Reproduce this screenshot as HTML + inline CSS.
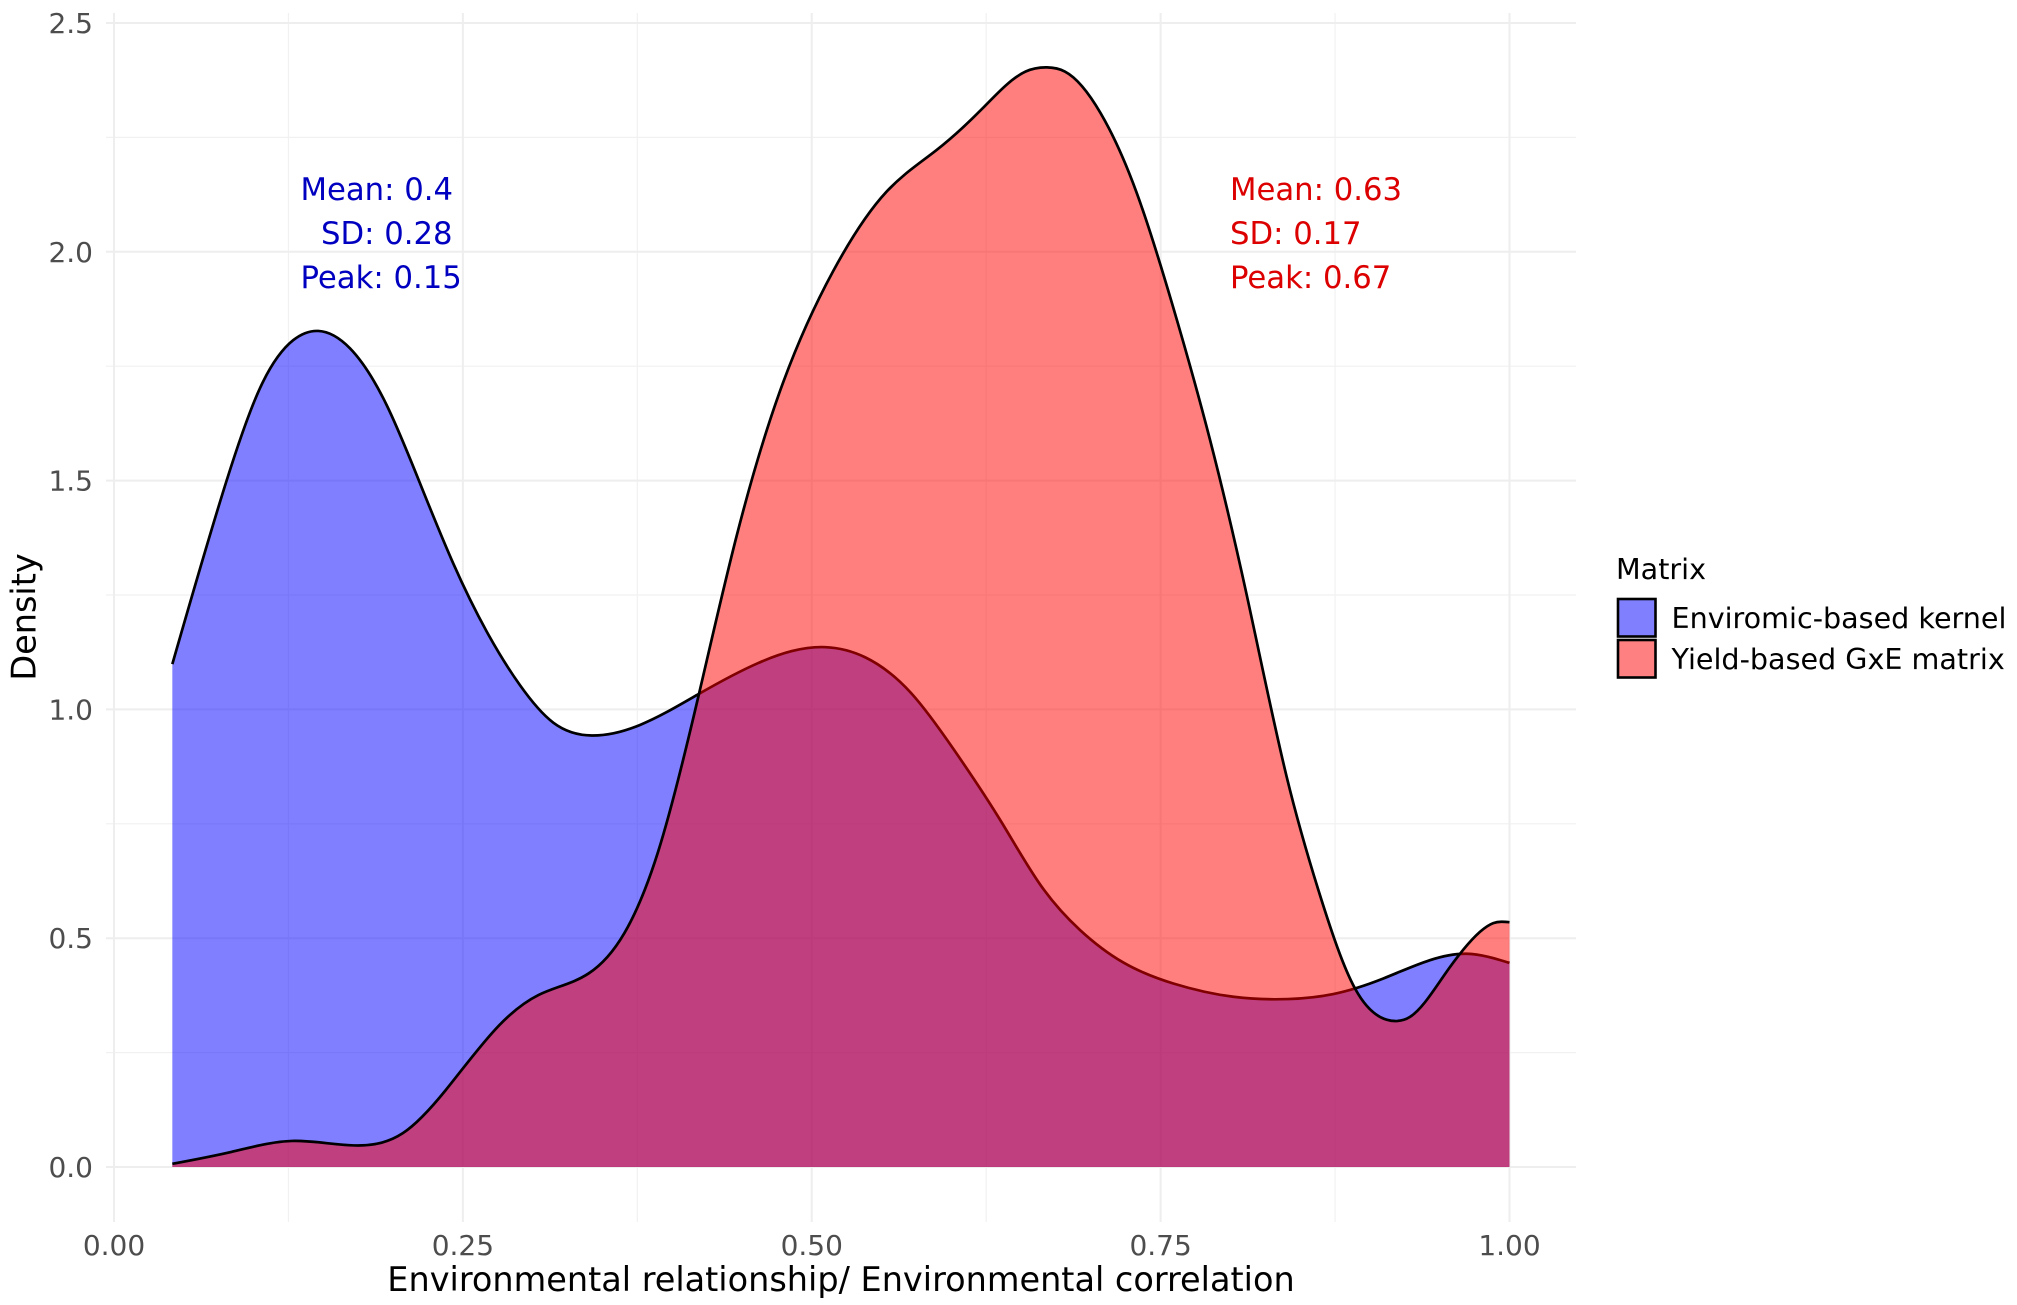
<!DOCTYPE html>
<html lang="en">
<head>
<meta charset="utf-8">
<title>Environmental relationship density plot</title>
<style>
html,body{margin:0;padding:0;background:#fff;}
#chart{display:block;font-family:"DejaVu Sans","Liberation Sans",sans-serif;}
</style>
</head>
<body>
<svg id="chart" xmlns="http://www.w3.org/2000/svg" width="2017" height="1305" viewBox="0 0 2017 1305">
  <rect x="0" y="0" width="2017" height="1305" fill="#ffffff"/>
  <g id="grid"></g>
  <g id="series"></g>
  <g id="x-ticks" font-size="28" fill="#4d4d4d" text-anchor="middle"></g>
  <g id="y-ticks" font-size="28" fill="#4d4d4d" text-anchor="end"></g>
  <text x="841" y="1291" font-size="33.5" text-anchor="middle" fill="#000">Environmental relationship/ Environmental correlation</text>
  <text transform="translate(35.5,617) rotate(-90)" font-size="33.5" text-anchor="middle" fill="#000">Density</text>

  <g font-size="30.7" fill="#0000c0">
    <text x="300.5" y="200">Mean: 0.4</text>
    <text x="321" y="244">SD: 0.28</text>
    <text x="300.5" y="288">Peak: 0.15</text>
  </g>
  <g font-size="30.7" fill="#dc0000">
    <text x="1230" y="200">Mean: 0.63</text>
    <text x="1230" y="244">SD: 0.17</text>
    <text x="1230" y="288">Peak: 0.67</text>
  </g>

  <g>
    <text x="1616" y="579" font-size="28.6" fill="#000">Matrix</text>
    <g>
      <rect x="1618" y="599" width="37.5" height="37.5" fill="#8080ff" stroke="#000" stroke-width="2.6"/>
      <text x="1671.5" y="628" font-size="28.6" fill="#000">Enviromic-based kernel</text>
    </g>
    <g>
      <rect x="1618" y="640" width="37.5" height="37.5" fill="#ff8080" stroke="#000" stroke-width="2.6"/>
      <text x="1671.5" y="669" font-size="28.6" fill="#000">Yield-based GxE matrix</text>
    </g>
  </g>
</svg>
<script>
const xMajorTicks = [0, 0.25, 0.5, 0.75, 1];
const xMinorTicks = [0.125, 0.375, 0.625, 0.875];
const xTickLabels = ["0.00", "0.25", "0.50", "0.75", "1.00"];
const yMajorTicks = [0, 0.5, 1, 1.5, 2, 2.5];
const yMinorTicks = [0.25, 0.75, 1.25, 1.75, 2.25];
const yTickLabels = ["0.0", "0.5", "1.0", "1.5", "2.0", "2.5"];

const enviromicX = [0.0418,0.0808,0.1046,0.1285,0.1464,0.1691,0.1954,0.2193,0.2431,0.2671,0.2909,0.3148,0.3423,0.3769,0.4192,0.4614,0.51,0.5382,0.5714,0.6021,0.6363,0.6635,0.6922,0.7232,0.7591,0.8021,0.8413,0.8737,0.9096,0.943,0.9693,1];
const enviromicDensity = [1.099,1.501,1.702,1.807,1.827,1.789,1.665,1.494,1.319,1.17,1.053,0.971,0.943,0.966,1.034,1.101,1.136,1.114,1.035,0.911,0.752,0.618,0.518,0.447,0.401,0.372,0.367,0.378,0.412,0.452,0.466,0.446];

const yieldX = [0.0418,0.0841,0.1276,0.175,0.207,0.2377,0.2761,0.3043,0.3401,0.3657,0.3898,0.4192,0.446,0.4767,0.5152,0.5535,0.5893,0.6226,0.6533,0.6686,0.6814,0.707,0.7326,0.7582,0.7854,0.8117,0.8403,0.8642,0.8893,0.9072,0.9179,0.9287,0.9525,0.9789,0.9884,1];
const yieldDensity = [0.007,0.033,0.057,0.047,0.074,0.168,0.31,0.376,0.423,0.511,0.688,1.034,1.377,1.691,1.957,2.131,2.222,2.314,2.394,2.403,2.394,2.303,2.131,1.887,1.589,1.25,0.853,0.594,0.39,0.328,0.319,0.328,0.416,0.514,0.533,0.535];

const SVG_NS = "http://www.w3.org/2000/svg";
function xScale(v) { return 114 + v * 1395.5; }
function yScale(v) { return 1167 - v * 457.6; }

function makeSvg(tag, attrs, parent, text) {
  const node = document.createElementNS(SVG_NS, tag);
  for (const key in attrs) { node.setAttribute(key, attrs[key]); }
  if (text !== undefined) { node.textContent = text; }
  parent.appendChild(node);
  return node;
}

/* natural cubic spline through the data points, emitted as Bezier segments */
function curvePath(xs, ys) {
  const px = xs.map(xScale), py = ys.map(yScale), n = px.length;
  const h = [], a = new Array(n).fill(0), b = new Array(n).fill(1), c = new Array(n).fill(0), r = new Array(n).fill(0);
  for (let i = 0; i < n - 1; i++) { h.push(px[i + 1] - px[i]); }
  for (let i = 1; i < n - 1; i++) {
    a[i] = h[i - 1];
    b[i] = 2 * (h[i - 1] + h[i]);
    c[i] = h[i];
    r[i] = 6 * ((py[i + 1] - py[i]) / h[i] - (py[i] - py[i - 1]) / h[i - 1]);
  }
  for (let i = 1; i < n; i++) {
    const w = a[i] / b[i - 1];
    b[i] -= w * c[i - 1];
    r[i] -= w * r[i - 1];
  }
  const s = new Array(n).fill(0);
  s[n - 1] = r[n - 1] / b[n - 1];
  for (let i = n - 2; i >= 0; i--) { s[i] = (r[i] - c[i] * s[i + 1]) / b[i]; }
  let d = "M" + px[0].toFixed(2) + "," + py[0].toFixed(2);
  for (let i = 0; i < n - 1; i++) {
    const slope = (py[i + 1] - py[i]) / h[i];
    const m0 = slope - h[i] * (2 * s[i] + s[i + 1]) / 6;
    const m1 = slope + h[i] * (s[i] + 2 * s[i + 1]) / 6;
    d += "C" + (px[i] + h[i] / 3).toFixed(2) + "," + (py[i] + m0 * h[i] / 3).toFixed(2) + " " +
         (px[i + 1] - h[i] / 3).toFixed(2) + "," + (py[i + 1] - m1 * h[i] / 3).toFixed(2) + " " +
         px[i + 1].toFixed(2) + "," + py[i + 1].toFixed(2);
  }
  return d;
}

function areaPath(xs, ys) {
  return curvePath(xs, ys) + "L" + xScale(xs[xs.length - 1]).toFixed(2) + "," + yScale(0) + "L" + xScale(xs[0]).toFixed(2) + "," + yScale(0) + "Z";
}

const gridGroup = document.getElementById("grid");
const seriesGroup = document.getElementById("series");
const xTickGroup = document.getElementById("x-ticks");
const yTickGroup = document.getElementById("y-ticks");

yMinorTicks.forEach(function (v) {
  const el = makeSvg("line", { x1: 106, x2: 1576, y1: yScale(v), y2: yScale(v), stroke: "#f1f1f1", "stroke-width": 1.2 }, gridGroup);
  
  
});
xMinorTicks.forEach(function (v) {
  const el = makeSvg("line", { x1: xScale(v), x2: xScale(v), y1: 13, y2: 1222, stroke: "#f1f1f1", "stroke-width": 1.2 }, gridGroup);
  
  
});
yMajorTicks.forEach(function (v) {
  const el = makeSvg("line", { x1: 106, x2: 1576, y1: yScale(v), y2: yScale(v), stroke: "#eeeeee", "stroke-width": 2 }, gridGroup);
  
  
});
xMajorTicks.forEach(function (v) {
  const el = makeSvg("line", { x1: xScale(v), x2: xScale(v), y1: 13, y2: 1222, stroke: "#eeeeee", "stroke-width": 2 }, gridGroup);
  
  
});

const enviromicArea = makeSvg("path", { d: areaPath(enviromicX, enviromicDensity), fill: "#0000ff", "fill-opacity": 0.5 }, seriesGroup);


const enviromicLine = makeSvg("path", { d: curvePath(enviromicX, enviromicDensity), fill: "none", stroke: "#000", "stroke-width": 2.7 }, seriesGroup);


const yieldArea = makeSvg("path", { d: areaPath(yieldX, yieldDensity), fill: "#ff0000", "fill-opacity": 0.5 }, seriesGroup);


const yieldLine = makeSvg("path", { d: curvePath(yieldX, yieldDensity), fill: "none", stroke: "#000", "stroke-width": 2.7 }, seriesGroup);



xMajorTicks.forEach(function (v, i) {
  const el = makeSvg("text", { x: xScale(v), y: 1255 }, xTickGroup, xTickLabels[i]);
  
  
});
yMajorTicks.forEach(function (v, i) {
  const el = makeSvg("text", { x: 93, y: yScale(v) + 10 }, yTickGroup, yTickLabels[i]);
  
  
});
</script>
</body>
</html>
